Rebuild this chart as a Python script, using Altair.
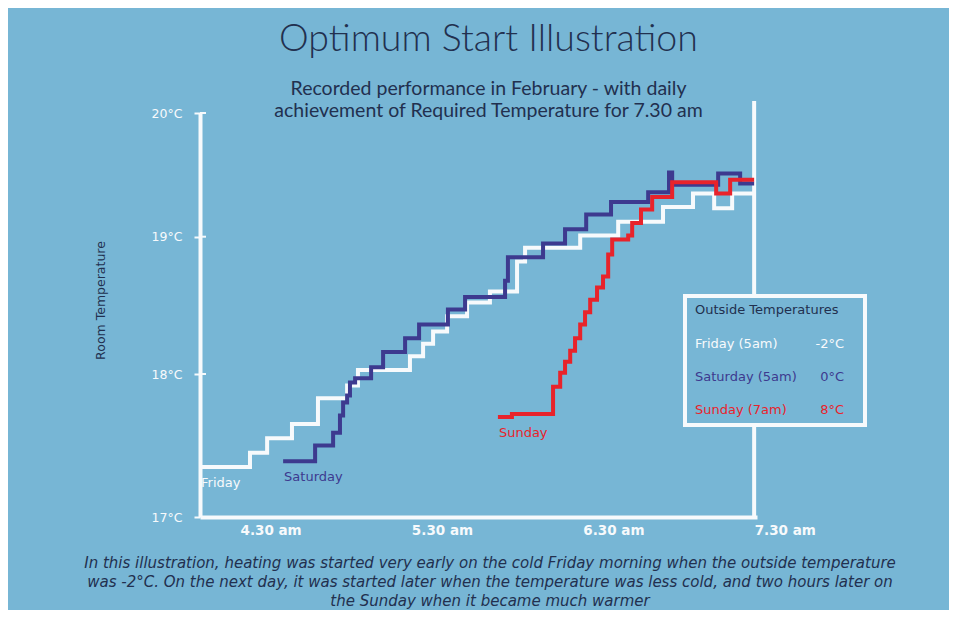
import altair as alt
import pandas as pd

# ---------------- data ----------------
# time in minutes after midnight, temperature in °C
fri_time = [256.0, 273.5, 279.5, 288.2, 297.3, 307.5, 311.3, 329.5, 334.1, 337.6, 342.5,
            349.5, 357.5, 367.0, 369.8, 389.1, 402.4, 418.1, 428.6, 436.0, 442.3, 450.0]
fri_temp = [17.35, 17.45, 17.55, 17.65, 17.83, 17.92, 18.03, 18.13, 18.22, 18.31, 18.42,
            18.52, 18.60, 18.82, 18.92, 19.01, 19.12, 19.24, 19.35, 19.23, 19.35, 19.35]

sat_time = [285.1, 296.3, 302.6, 305.0, 306.1, 307.5, 308.5, 310.3, 315.9, 320.1, 327.8,
            332.7, 342.8, 348.8, 362.8, 363.8, 376.1, 383.8, 391.2, 399.9, 412.9, 420.2,
            421.3, 437.4, 445.1, 450.0]
sat_temp = [17.39, 17.50, 17.59, 17.71, 17.80, 17.85, 17.94, 17.97, 18.05, 18.16, 18.26,
            18.36, 18.47, 18.56, 18.68, 18.85, 18.95, 19.06, 19.18, 19.28, 19.36, 19.52,
            19.42, 19.51, 19.43, 19.43]

sun_time = [360.3, 365.2, 379.6, 382.1, 383.8, 385.6, 387.3, 389.1, 390.8, 392.6, 395.0,
            397.1, 398.9, 400.3, 405.9, 407.3, 410.4, 414.3, 421.3, 436.7, 441.6, 450.0]
sun_temp = [17.70, 17.72, 17.91, 18.01, 18.09, 18.17, 18.26, 18.36, 18.45, 18.54, 18.63,
            18.71, 18.87, 18.98, 19.01, 19.11, 19.22, 19.32, 19.44, 19.35, 19.46, 19.46]

series_names = ["Friday", "Saturday", "Sunday"]

temp_ticks = [17, 18, 19, 20]
inner_ticks = [18, 19, 20]
time_ticks = [270, 330, 390, 450]
time_labels = ["4.30 am", "5.30 am", "6.30 am", "7.30 am"]
target_time = [450]

legend_title = "Outside Temperatures"
legend_days = ["Friday (5am)", "Saturday (5am)", "Sunday (7am)"]
legend_temps = ["-2°C", "0°C", "8°C"]

title_text = "Optimum Start Illustration"
subtitle_lines = ["Recorded performance in February - with daily",
                  "achievement of Required Temperature for 7.30 am"]
caption_lines = [
    "In this illustration, heating was started very early on the cold Friday morning when the outside temperature",
    "was -2°C. On the next day, it was started later when the temperature was less cold, and two hours later on",
    "the Sunday when it became much warmer",
]

# ---------------- style ----------------
BG = "#77b6d5"
NAVY = "#22304f"
WHITE = "#f7fafc"
PURPLE = "#3d3a8f"
RED = "#e8232b"
series_colors = [WHITE, PURPLE, RED]
TFONT = "Lato"
FONT = "DejaVu Sans"

W, H = 557, 404

x_scale = alt.Scale(domain=[256, 451], nice=False, zero=False)
y_scale = alt.Scale(domain=[17, 18, 19, 20], range=[404, 261, 123.7, 0], nice=False, zero=False)

label_expr_x = ("[" + ",".join("'%s'" % s for s in time_labels) + "][indexof(["
                + ",".join(str(v) for v in time_ticks) + "], datum.value)]")

x_axis = alt.Axis(values=time_ticks, labelExpr=label_expr_x, title=None,
                  domainColor=WHITE, domainWidth=4, ticks=False, grid=False,
                  labelAlign="left", labelColor=WHITE, labelFont=FONT,
                  labelFontWeight="bold", labelFontSize=13.5, labelPadding=6,
                  labelFlush=False, labelOverlap=False)
y_axis = alt.Axis(values=temp_ticks, labelExpr="datum.value + '°C'",
                  title="Room Temperature", titleX=-100, titleY=187, titleAngle=-90,
                  titleAlign="center", titleBaseline="middle",
                  titleFont=FONT, titleFontWeight="normal", titleFontSize=12.5, titleColor=NAVY,
                  domainColor=WHITE, domainWidth=4, tickColor=WHITE, tickWidth=2, tickSize=6,
                  labelColor=WHITE, labelFont=FONT, labelFontSize=12.5, labelPadding=12,
                  grid=False)

# ---------------- layers ----------------
vline = alt.Chart(pd.DataFrame({"time": target_time})).mark_rule(
    color=WHITE, strokeWidth=4).encode(
    x=alt.X("time:Q", scale=x_scale, axis=x_axis),
    y=alt.value(-12), y2=alt.value(H))

inner = alt.Chart(pd.DataFrame({"temp": inner_ticks})).mark_rule(
    color=WHITE, strokeWidth=2).encode(
    y=alt.Y("temp:Q", scale=y_scale, axis=y_axis),
    x=alt.value(0), x2=alt.value(6))

frames = []
for name, t, v in zip(series_names, [fri_time, sat_time, sun_time], [fri_temp, sat_temp, sun_temp]):
    frames.append(pd.DataFrame({"time": t, "temp": v, "day": name}))

lines = []
for df, col in zip(frames, series_colors):
    lines.append(alt.Chart(df).mark_line(interpolate="step-after", strokeWidth=4,
                                         color=col, strokeJoin="miter").encode(
        x=alt.X("time:Q", scale=x_scale, axis=x_axis),
        y=alt.Y("temp:Q", scale=y_scale, axis=y_axis)))

starts = pd.DataFrame({"time": [f["time"].iloc[0] for f in frames],
                       "temp": [f["temp"].iloc[0] for f in frames],
                       "day": series_names})
line_labels = alt.Chart(starts).mark_text(align="left", baseline="middle", dx=1, dy=16,
                                          font=FONT, fontSize=13).encode(
    x=alt.X("time:Q", scale=x_scale, axis=x_axis),
    y=alt.Y("temp:Q", scale=y_scale, axis=y_axis),
    text="day:N",
    color=alt.Color("day:N", scale=alt.Scale(domain=series_names, range=series_colors), legend=None))

one = pd.DataFrame({"a": [0]})
box = alt.Chart(one).mark_rect(fill=BG, stroke=WHITE, strokeWidth=4).encode(
    x=alt.value(485), x2=alt.value(665), y=alt.value(183), y2=alt.value(312))

legend_layers = [alt.Chart(one).mark_text(align="left", baseline="middle", font=FONT,
                                          fontSize=13, color=NAVY).encode(
    x=alt.value(495), y=alt.value(197), text=alt.value(legend_title))]
for i, (d, tt, col) in enumerate(zip(legend_days, legend_temps, series_colors)):
    yy = 231 + i * 33
    legend_layers.append(alt.Chart(one).mark_text(align="left", baseline="middle", font=FONT,
                                                  fontSize=13, color=col).encode(
        x=alt.value(495), y=alt.value(yy), text=alt.value(d)))
    legend_layers.append(alt.Chart(one).mark_text(align="right", baseline="middle", font=FONT,
                                                  fontSize=13, color=col).encode(
        x=alt.value(644), y=alt.value(yy), text=alt.value(tt)))

caption = alt.Chart(one).mark_text(align="center", baseline="top", font=FONT, fontSize=15,
                                   fontStyle="italic", color=NAVY, lineHeight=19).encode(
    x=alt.value(290), y=alt.value(443), text=alt.value(caption_lines))

chart = alt.layer(vline, inner, *lines, line_labels, box, *legend_layers, caption).properties(
    width=W, height=H,
    title=alt.Title(title_text, subtitle=subtitle_lines, font=TFONT, fontSize=37.5, fontWeight=300,
                    color=NAVY, subtitleFont=TFONT, subtitleFontSize=19.5, subtitleColor=NAVY,
                    subtitlePadding=21, subtitleLineHeight=22, offset=-21, anchor="middle", dx=10),
    background=BG,
    padding={"left": 192, "top": 105, "right": 192, "bottom": 93},
    autosize=alt.AutoSizeParams(type="none"),
).configure_view(stroke=None)

chart.save("out.html", embed_options={"renderer": "svg", "actions": False})
